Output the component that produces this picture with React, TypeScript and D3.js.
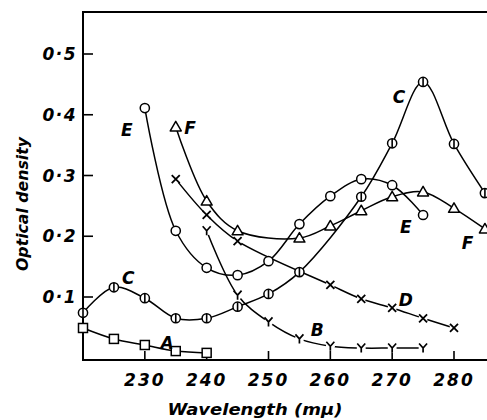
import React from "react";
import * as d3 from "d3";

// ---- data (wavelength in mμ, optical density) ----
const aWave = [220, 225, 230, 235, 240];
const aOD = [0.049, 0.031, 0.021, 0.011, 0.008];

const bWave = [240, 245, 250, 255, 260, 265, 270, 275];
const bOD = [0.209, 0.103, 0.059, 0.031, 0.019, 0.016, 0.016, 0.016];

const cWave = [220, 225, 230, 235, 240, 245, 250, 255, 265, 270, 275, 280, 285];
const cOD = [0.074, 0.116, 0.098, 0.065, 0.065, 0.084, 0.105, 0.141, 0.265, 0.353, 0.454, 0.352, 0.271];

const dWave = [235, 240, 245, 260, 265, 270, 275, 280];
const dOD = [0.294, 0.235, 0.192, 0.12, 0.097, 0.082, 0.065, 0.049];

const eWave = [230, 235, 240, 245, 250, 255, 260, 265, 270, 275];
const eOD = [0.411, 0.209, 0.148, 0.136, 0.159, 0.22, 0.266, 0.294, 0.284, 0.235];

const fWave = [235, 240, 245, 255, 260, 265, 270, 275, 280, 285];
const fOD = [0.38, 0.258, 0.209, 0.197, 0.217, 0.242, 0.265, 0.273, 0.246, 0.212];

const xTicks = [230, 240, 250, 260, 270, 280];
const yTicks = [0.1, 0.2, 0.3, 0.4, 0.5];
const yTickLabels = ["0·1", "0·2", "0·3", "0·4", "0·5"];

const curveNames = ["A", "C", "E", "F", "C", "E", "F", "D", "B"];
const curveLabelWave = [233.6, 227.3, 227.1, 237.3, 271.1, 272.2, 282.2, 272.2, 257.9];
const curveLabelOD = [0.024, 0.131, 0.375, 0.378, 0.429, 0.215, 0.189, 0.095, 0.046];

const xTitle = "Wavelength (mμ)";
const yTitle = "Optical density";

type Marker = "square" | "yee" | "phi" | "cross" | "circle" | "triangle";

const series: { wave: number[]; od: number[]; marker: Marker }[] = [
  { wave: aWave, od: aOD, marker: "square" },
  { wave: bWave, od: bOD, marker: "yee" },
  { wave: cWave, od: cOD, marker: "phi" },
  { wave: dWave, od: dOD, marker: "cross" },
  { wave: eWave, od: eOD, marker: "circle" },
  { wave: fWave, od: fOD, marker: "triangle" },
];

const W = 487;
const H = 420;
const left = 83;
const top = 12;
const bottom = 360;

const x = d3.scaleLinear().domain([220, 280]).range([83, 454]);
const y = d3.scaleLinear().domain([0.1, 0.5]).range([297, 54]);

const font = "'DejaVu Sans', sans-serif";

function MarkerShape({ kind, cx, cy }: { kind: Marker; cx: number; cy: number }) {
  const sw = 1.5;
  switch (kind) {
    case "square":
      return (
        <g>
          <rect x={cx - 4.5} y={cy - 4.5} width={9} height={9} fill="#fff" stroke="#000" strokeWidth={sw} />
        </g>
      );
    case "circle":
      return <circle cx={cx} cy={cy} r={4.6} fill="#fff" stroke="#000" strokeWidth={sw} />;
    case "phi":
      return (
        <g>
          <circle cx={cx} cy={cy} r={4.6} fill="#fff" stroke="#000" strokeWidth={sw} />
          <line x1={cx} x2={cx} y1={cy - 4.4} y2={cy + 4.4} stroke="#000" strokeWidth={1.6} />
        </g>
      );
    case "triangle":
      return (
        <path
          d={`M${cx},${cy - 5.5} L${cx + 5.5},${cy + 4} L${cx - 5.5},${cy + 4} Z`}
          fill="#fff"
          stroke="#000"
          strokeWidth={sw}
          strokeLinejoin="round"
        />
      );
    case "cross":
      return (
        <g>
          <circle cx={cx} cy={cy} r={4.5} fill="#fff" />
          <path
            d={`M${cx - 4},${cy - 4} L${cx + 4},${cy + 4} M${cx + 4},${cy - 4} L${cx - 4},${cy + 4}`}
            stroke="#000"
            strokeWidth={1.8}
          />
        </g>
      );
    case "yee":
      return (
        <g>
          <circle cx={cx} cy={cy} r={4.5} fill="#fff" />
          <path
            d={`M${cx - 4},${cy - 4.5} L${cx},${cy} L${cx + 4},${cy - 4.5} M${cx},${cy} L${cx},${cy + 4.5}`}
            stroke="#000"
            strokeWidth={1.7}
            fill="none"
          />
        </g>
      );
  }
  return null;
}

export default function App() {
  const line = d3
    .line<[number, number]>()
    .x((d) => x(d[0]))
    .y((d) => y(d[1]))
    .curve(d3.curveCatmullRom.alpha(0.5));

  const txt = {
    fontFamily: font,
    fontStyle: "italic",
    fontWeight: "bold" as const,
  };

  return (
    <svg
      width={W}
      height={H}
      viewBox={`0 0 ${W} ${H}`}
      style={{ position: "absolute", left: 0, top: 0, background: "#fff" }}
    >
      <rect width={W} height={H} fill="#fff" />
      {/* frame */}
      <line x1={left} x2={W} y1={top} y2={top} stroke="#000" strokeWidth={2} />
      <line x1={left} x2={left} y1={top - 1} y2={bottom + 1} stroke="#000" strokeWidth={2} />
      <line x1={left - 1} x2={W} y1={bottom} y2={bottom} stroke="#000" strokeWidth={2} />

      {/* y ticks */}
      {yTicks.map((t, i) => (
        <g key={"yt" + i}>
          <line x1={left} x2={left + 10} y1={y(t)} y2={y(t)} stroke="#000" strokeWidth={1.6} />
          <text
            x={77}
            y={y(t)}
            textAnchor="end"
            dominantBaseline="central"
            {...txt}
            fontSize={17}
            letterSpacing={1.5}
          >
            {yTickLabels[i]}
          </text>
        </g>
      ))}

      {/* x ticks */}
      {xTicks.map((t, i) => (
        <g key={"xt" + i}>
          <line x1={x(t)} x2={x(t)} y1={bottom} y2={bottom - 9} stroke="#000" strokeWidth={1.6} />
          <text
            x={x(t)}
            y={380}
            textAnchor="middle"
            dominantBaseline="central"
            {...txt}
            fontSize={17}
            letterSpacing={2}
          >
            {String(t)}
          </text>
        </g>
      ))}

      {/* axis titles */}
      <text
        x={255}
        y={409}
        textAnchor="middle"
        dominantBaseline="central"
        {...txt}
        fontSize={16.5}
        textLength={175}
        lengthAdjust="spacingAndGlyphs"
      >
        {xTitle}
      </text>
      <text
        transform={`translate(22,204) rotate(-90)`}
        textAnchor="middle"
        dominantBaseline="central"
        {...txt}
        fontSize={16.5}
        textLength={134}
        lengthAdjust="spacingAndGlyphs"
      >
        {yTitle}
      </text>

      {/* curves */}
      {series.map((s, i) => (
        <path
          key={"c" + i}
          d={line(s.wave.map((w, j) => [w, s.od[j]] as [number, number])) || ""}
          fill="none"
          stroke="#000"
          strokeWidth={1.5}
        />
      ))}
      {/* markers */}
      {series.map((s, i) =>
        s.wave.map((w, j) => <MarkerShape key={`m${i}-${j}`} kind={s.marker} cx={x(w)} cy={y(s.od[j])} />)
      )}

      {/* curve labels */}
      {curveNames.map((n, i) => (
        <text
          key={"lab" + i}
          x={x(curveLabelWave[i])}
          y={y(curveLabelOD[i])}
          textAnchor="middle"
          dominantBaseline="central"
          {...txt}
          fontSize={17}
        >
          {n}
        </text>
      ))}
    </svg>
  );
}
